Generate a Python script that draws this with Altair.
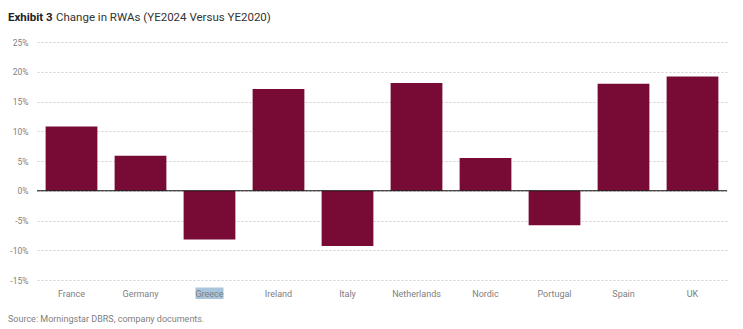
import altair as alt
import pandas as pd

categories = ["France", "Germany", "Greece", "Ireland", "Italy",
              "Netherlands", "Nordic", "Portugal", "Spain", "UK"]
values = [10.8, 5.9, -8.2, 17.1, -9.3, 18.1, 5.5, -5.8, 18.0, 19.2]
y_ticks = [-15, -10, -5, 0, 5, 10, 15, 20, 25]

title_bold = "Exhibit 3"
title_rest = "Change in RWAs (YE2024 Versus YE2020)"
source_note = "Source: Morningstar DBRS, company documents."
highlighted = "Greece"

FONT = "Roboto"
BAR = "#780A36"
GRAY = "#808080"

df = pd.DataFrame({"category": categories, "value": values})

y_scale = alt.Scale(domain=[-15, 25], nice=False, zero=False)
y_axis = alt.Axis(values=y_ticks, labelExpr="datum.value + '%'",
                  ticks=False, domain=False, labelPadding=9,
                  labelOverlap=False, labelBound=False,
                  labelFontSize=8.5, labelColor=GRAY, labelFont=FONT,
                  grid=True, gridColor="#d0d0d0", gridDash=[2, 2],
                  gridWidth=1)

x_enc = alt.X("category:N", sort=categories, title=None,
              scale=alt.Scale(paddingInner=0.25, paddingOuter=0.125),
              axis=alt.Axis(labelAngle=0, ticks=False, domain=False,
                            labelPadding=9, labelFontSize=9,
                            labelColor=GRAY, labelFont=FONT, zindex=1))

base = alt.Chart(df)

highlight = base.transform_filter(
    alt.datum.category == highlighted
).mark_bar(width=28, color="#A8C5DB").encode(
    x=x_enc, y=alt.value(245.5), y2=alt.value(257)
)

bars = base.mark_bar(color=BAR).encode(
    x=x_enc,
    y=alt.Y("value:Q", title=None, scale=y_scale, axis=y_axis)
)

zero = alt.Chart(pd.DataFrame({"value": [0]})).mark_rule(
    color="#111111", strokeWidth=1.2
).encode(y=alt.Y("value:Q", title=None, scale=y_scale, axis=y_axis))

t1 = alt.Chart(pd.DataFrame({"t": [title_bold]})).mark_text(
    align="left", baseline="alphabetic", font=FONT, fontSize=11.5,
    fontWeight="bold", color="#222222"
).encode(text="t:N", x=alt.value(-29), y=alt.value(-21))

t2 = alt.Chart(pd.DataFrame({"t": [title_rest]})).mark_text(
    align="left", baseline="alphabetic", font=FONT, fontSize=11.5,
    color="#333333"
).encode(text="t:N", x=alt.value(19), y=alt.value(-21))

src = alt.Chart(pd.DataFrame({"t": [source_note]})).mark_text(
    align="left", baseline="alphabetic", font=FONT, fontSize=9,
    color=GRAY
).encode(text="t:N", x=alt.value(-29), y=alt.value(280))

chart = alt.layer(highlight, bars, zero, t1, t2, src).properties(
    width=690, height=238,
    autosize=alt.AutoSizeParams(type="none"),
    padding={"left": 37, "top": 42, "right": 16, "bottom": 49},
    background="white"
).configure_view(stroke=None)

chart.save("out.html", embed_options={"renderer": "svg", "actions": False})
